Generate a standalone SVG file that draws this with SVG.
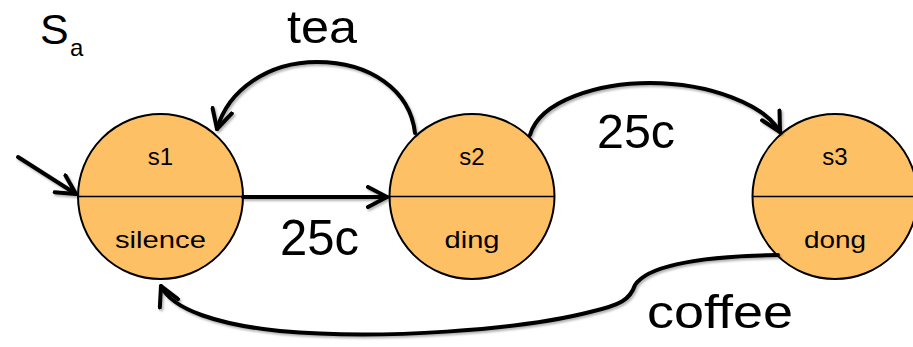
<svg xmlns="http://www.w3.org/2000/svg" width="913" height="347" viewBox="0 0 913 347">
<style>
.st{fill:#FEC064;stroke:#000;stroke-width:2}
.dv{stroke:#000;stroke-width:1.5}
.lbl{font-family:"Liberation Sans","DejaVu Sans",sans-serif;font-size:24px;fill:#000;text-anchor:middle}
.big{font-family:"Liberation Sans","DejaVu Sans",sans-serif;fill:#000}
.edge{fill:none;stroke:#000;stroke-width:4;stroke-linecap:round;stroke-linejoin:round;filter:url(#sh)}
</style>
<defs>
<filter id="sh" filterUnits="userSpaceOnUse" x="0" y="0" width="913" height="347">
<feDropShadow dx="1.5" dy="2" stdDeviation="1.2" flood-color="#000" flood-opacity="0.3"/>
</filter>
<marker id="ah" markerUnits="userSpaceOnUse" viewBox="0 0 24 24" refX="21" refY="12" markerWidth="24" markerHeight="24" orient="auto">
<path d="M2,2 L21,12 L2,22" fill="none" stroke="#000" stroke-width="4" stroke-linecap="round" stroke-linejoin="round"/>
</marker>
</defs>
<text class="big" x="40" y="44" font-size="43">S</text>
<text class="big" x="70" y="56" font-size="24">a</text>
<g id="s1">
<circle class="st" cx="160.5" cy="196.5" r="82.5"/>
<line class="dv" x1="78" y1="196.5" x2="243" y2="196.5"/>
<text class="lbl" x="160.5" y="165">s1</text>
<text class="lbl" x="160.5" y="248" textLength="91" lengthAdjust="spacingAndGlyphs">silence</text>
</g>
<g id="s2">
<circle class="st" cx="472" cy="196.5" r="82.5"/>
<line class="dv" x1="389.5" y1="196.5" x2="554.5" y2="196.5"/>
<text class="lbl" x="472" y="165">s2</text>
<text class="lbl" x="472" y="248" textLength="55" lengthAdjust="spacingAndGlyphs">ding</text>
</g>
<g id="s3">
<circle class="st" cx="835" cy="196.5" r="82.5"/>
<line class="dv" x1="752.5" y1="196.5" x2="917.5" y2="196.5"/>
<text class="lbl" x="835" y="165">s3</text>
<text class="lbl" x="835" y="248" textLength="62" lengthAdjust="spacingAndGlyphs">dong</text>
</g>
<g id="connectors">
<path class="edge" d="M18,157 L76,194" marker-end="url(#ah)"/>
<path class="edge" d="M243,197 L387,197" marker-end="url(#ah)"/>
<path class="edge" d="M415,133 C410,90 370,62 317,62 C268,62 228,90 217,129" marker-end="url(#ah)"/>
<path class="edge" d="M530,135 C540,100 600,83 650,83 C710,83 765,105 780,132" marker-end="url(#ah)"/>
<path class="edge" d="M778,255 C720,256 650,262 635,285 C630,300 620,305 590,312 C520,330 380,340 280,331 C220,325 172,310 161,286" marker-end="url(#ah)"/>
<text class="big" x="287" y="43" font-size="46" textLength="70" lengthAdjust="spacingAndGlyphs">tea</text>
<text class="big" x="280" y="255" font-size="50" textLength="79" lengthAdjust="spacingAndGlyphs">25c</text>
<text class="big" x="597" y="148" font-size="48" textLength="78" lengthAdjust="spacingAndGlyphs">25c</text>
<text class="big" x="647" y="328" font-size="46" textLength="146" lengthAdjust="spacingAndGlyphs">coffee</text>
</g>
</svg>
